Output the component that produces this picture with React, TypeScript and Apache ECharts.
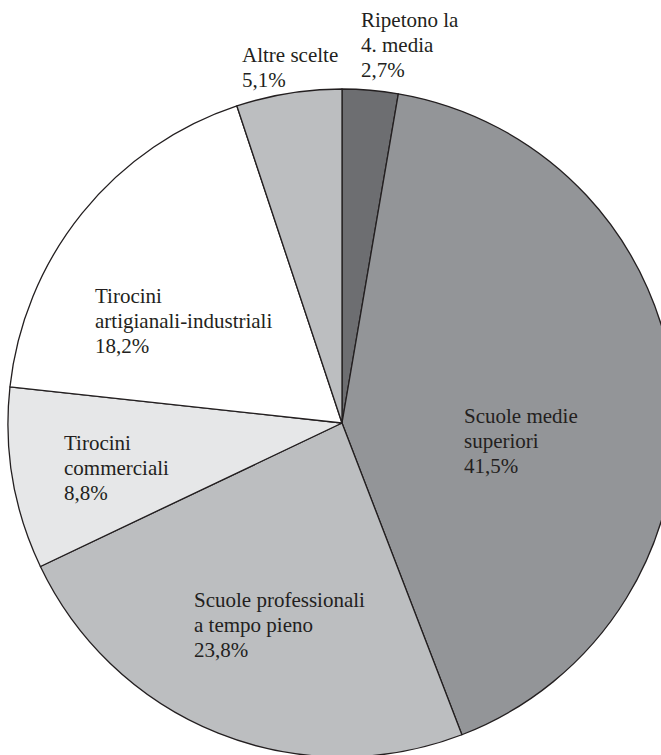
import React, { useEffect, useRef } from "react";
import * as echarts from "echarts";

const categories = [
  "Ripetono la\n4. media",
  "Scuole medie\nsuperiori",
  "Scuole professionali\na tempo pieno",
  "Tirocini\ncommerciali",
  "Tirocini\nartigianali-industriali",
  "Altre scelte",
];
const values = [2.7, 41.5, 23.8, 8.8, 18.2, 5.1];
const colors = ["#6d6e71", "#939598", "#bcbec0", "#e6e7e8", "#ffffff", "#bcbec0"];
const labelPos: [number, number][] = [
  [361, 9],
  [464, 405],
  [194, 589],
  [64, 432],
  [95, 285],
  [242, 44],
];
const LINE = 25;

const fmt = (v: number) => v.toFixed(1).replace(".", ",") + "%";

export default function App() {
  const ref = useRef<HTMLDivElement>(null);
  useEffect(() => {
    if (!ref.current) return;
    const chart = echarts.init(ref.current, null, { renderer: "svg" });
    const graphics: any[] = [];
    categories.forEach((c, i) => {
      const lines = (c + "\n" + fmt(values[i])).split("\n");
      lines.forEach((t, j) => {
        graphics.push({
          type: "text",
          x: labelPos[i][0],
          y: labelPos[i][1] + j * LINE,
          silent: true,
          z: 100,
          style: {
            text: t,
            fontFamily: "Liberation Serif",
            fontSize: 21,
            fill: "#231f20",
          },
        });
      });
    });
    chart.setOption({
      animation: false,
      backgroundColor: "#ffffff",
      series: [
        {
          type: "pie",
          center: [342, 423],
          radius: [0, 334],
          startAngle: 90,
          clockwise: true,
          silent: true,
          emphasis: { disabled: true },
          itemStyle: { borderColor: "#231f20", borderWidth: 1.3 },
          data: categories.map((c, i) => ({
            name: c,
            value: values[i],
            itemStyle: { color: colors[i] },
          })),
          label: { show: false },
          labelLine: { show: false },
        },
      ],
      graphic: graphics,
    });
    return () => chart.dispose();
  }, []);
  return (
    <div
      ref={ref}
      style={{ position: "fixed", left: 0, top: 0, width: 661, height: 755 }}
    />
  );
}
